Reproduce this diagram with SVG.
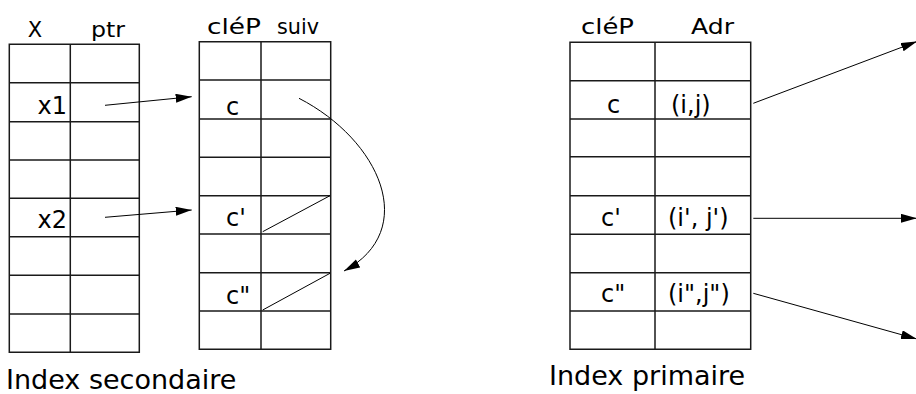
<svg xmlns="http://www.w3.org/2000/svg" width="916" height="394" viewBox="0 0 916 394">
<style>
.grid{fill:none;stroke:#1a1a1a;stroke-width:1.5}
.t{font-family:"DejaVu Sans",Verdana,sans-serif;fill:#000}
.h{font-size:21px}
.c{font-size:24px}
.big{font-size:27px}
.con{fill:none;stroke:#000;stroke-width:1}
</style>
<defs>
<marker id="ah" markerUnits="userSpaceOnUse" markerWidth="18" markerHeight="12" refX="16" refY="4.5" orient="auto">
<path d="M0,0 L16,4.5 L0,9 Z" fill="#000"/>
</marker>
</defs>
<g id="table-secondary">
<path class="grid" d="M9.3,44.3 H139.3 V352.3 H9.3 Z M70.3,44.3 V352.3 M9.3,82.7 H139.3 M9.3,121.7 H139.3 M9.3,160 H139.3 M9.3,198.3 H139.3 M9.3,236.7 H139.3 M9.3,275.3 H139.3 M9.3,314 H139.3"/>
<text class="t h" x="35" y="36.5" text-anchor="middle">X</text>
<text class="t h" x="91" y="36.5" textLength="34" lengthAdjust="spacingAndGlyphs">ptr</text>
<text class="t c" x="67" y="114" text-anchor="end">x1</text>
<text class="t c" x="67" y="228" text-anchor="end">x2</text>
</g>
<g id="table-chain">
<path class="grid" d="M199.3,41.7 H330.7 V349.3 H199.3 Z M261,41.7 V349.3 M199.3,80 H330.7 M199.3,119 H330.7 M199.3,157.3 H330.7 M199.3,195.7 H330.7 M199.3,234 H330.7 M199.3,272.7 H330.7 M199.3,311 H330.7"/>
<path class="con" d="M262.7,231.7 L330,195.7 M262.7,310 L330,273.3"/>
<text class="t h" x="207" y="34" textLength="54" lengthAdjust="spacingAndGlyphs">cléP</text>
<text class="t h" x="277" y="34" textLength="42" lengthAdjust="spacingAndGlyphs">suiv</text>
<text class="t c" x="226" y="115">c</text>
<text class="t c" x="226" y="226">c'</text>
<text class="t c" x="226" y="304">c"</text>
</g>
<g id="table-primary">
<path class="grid" d="M570,42.3 H750.7 V349.3 H570 Z M655,42.3 V349.3 M570,80.7 H750.7 M570,119 H750.7 M570,156.7 H750.7 M570,195.7 H750.7 M570,234.3 H750.7 M570,272.7 H750.7 M570,311 H750.7"/>
<text class="t h" x="581" y="34" textLength="53" lengthAdjust="spacingAndGlyphs">cléP</text>
<text class="t h" x="691" y="34" textLength="43" lengthAdjust="spacingAndGlyphs">Adr</text>
<text class="t c" x="607" y="113">c</text>
<text class="t c" x="671" y="113">(i,j)</text>
<text class="t c" x="601" y="226">c'</text>
<text class="t c" x="668" y="226">(i', j')</text>
<text class="t c" x="601" y="302">c"</text>
<text class="t c" x="668" y="302">(i",j")</text>
</g>
<g id="connectors">
<path class="con" d="M105,105.3 L191.7,96.7" marker-end="url(#ah)"/>
<path class="con" d="M105,217.3 L191.7,210" marker-end="url(#ah)"/>
<path class="con" d="M299,98.3 C380,140 420,230 344,271" marker-end="url(#ah)"/>
<path class="con" d="M753.3,103.3 L917,41.5" marker-end="url(#ah)"/>
<path class="con" d="M753.3,218.3 L917,218.3" marker-end="url(#ah)"/>
<path class="con" d="M753.3,293.3 L917,339" marker-end="url(#ah)"/>
</g>
<text class="t big" x="6" y="389">Index secondaire</text>
<text class="t big" x="549" y="385">Index primaire</text>
</svg>
